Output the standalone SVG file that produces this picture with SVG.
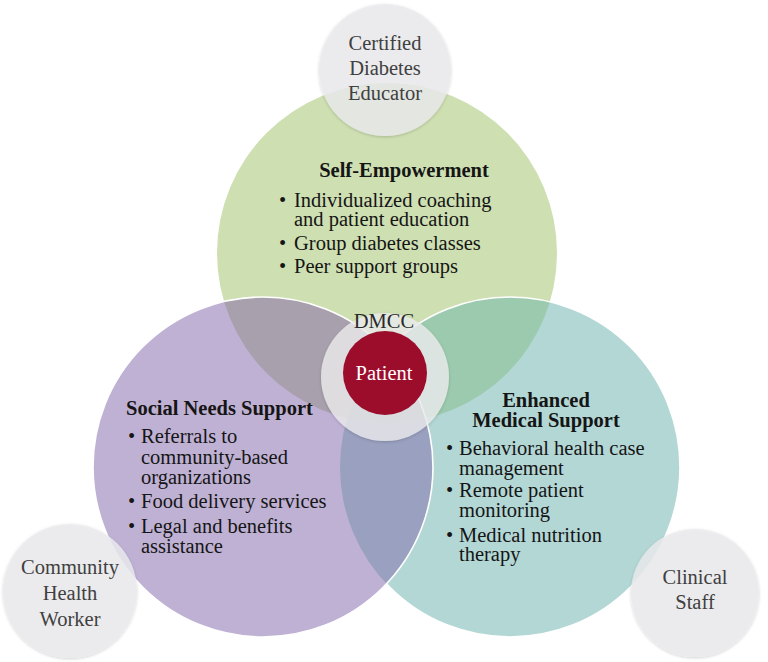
<svg xmlns="http://www.w3.org/2000/svg" width="768" height="662" viewBox="0 0 768 662">
<style>
  .t { font-size: 20.5px; fill: #151515; }
  .b { font-weight: bold; }
  .s { font-size: 20.5px; fill: #404040; text-anchor: middle; }
  .small { fill: #ececee; fill-opacity: 0.82; filter: url(#sh); }
  .edge { fill: none; stroke: #ffffff; stroke-width: 1.6; }
</style>
<defs>
  <filter id="sh" x="-20%" y="-20%" width="140%" height="140%">
    <feDropShadow dx="0" dy="1" stdDeviation="1.6" flood-color="#000" flood-opacity="0.22"/>
  </filter>
  <clipPath id="cG"><circle cx="387" cy="253" r="170"/></clipPath>
  <clipPath id="cP"><circle cx="263" cy="467" r="170"/></clipPath>
  <mask id="notP">
    <rect x="0" y="0" width="768" height="662" fill="#fff"/>
    <circle cx="263" cy="467" r="170" fill="#000"/>
  </mask>
</defs>
<rect x="0" y="0" width="768" height="662" fill="#ffffff"/>

<g id="self-empowerment">
  <circle cx="387" cy="253" r="170" fill="#cedfb2"/>
</g>
<g id="enhanced-medical-support">
  <circle cx="510" cy="467" r="170" fill="#b3d7d5"/>
</g>
<g id="social-needs-support">
  <circle cx="263" cy="467" r="170" fill="#bfb1d4"/>
</g>

<g id="overlaps">
  <g clip-path="url(#cG)"><circle cx="263" cy="467" r="170" fill="#a8a0ac"/></g>
  <g clip-path="url(#cG)"><circle cx="510" cy="467" r="170" fill="#9ccaae"/></g>
  <g clip-path="url(#cP)"><circle cx="510" cy="467" r="170" fill="#9aa0bf"/></g>
  <g clip-path="url(#cG)"><g clip-path="url(#cP)"><circle cx="510" cy="467" r="170" fill="#8f9aa8"/></g></g>
  <circle class="edge" cx="510" cy="467" r="170" mask="url(#notP)"/>
  <circle class="edge" cx="263" cy="467" r="170"/>
</g>

<g font-family="Liberation Serif, serif">
<g id="self-empowerment-text">
  <text class="t b" x="404" y="177" text-anchor="middle">Self-Empowerment</text>
  <text class="t" x="279" y="207">•</text>
  <text class="t" x="294" y="207">Individualized coaching</text>
  <text class="t" x="294" y="226">and patient education</text>
  <text class="t" x="279" y="250">•</text>
  <text class="t" x="294" y="250">Group diabetes classes</text>
  <text class="t" x="279" y="273">•</text>
  <text class="t" x="294" y="273">Peer support groups</text>
</g>

<g id="social-needs-text">
  <text class="t b" x="126" y="415">Social Needs Support</text>
  <text class="t" x="128" y="443">•</text>
  <text class="t" x="141" y="443">Referrals to</text>
  <text class="t" x="141" y="464">community-based</text>
  <text class="t" x="141" y="484">organizations</text>
  <text class="t" x="128" y="508">•</text>
  <text class="t" x="141" y="508">Food delivery services</text>
  <text class="t" x="128" y="533">•</text>
  <text class="t" x="141" y="533">Legal and benefits</text>
  <text class="t" x="141" y="553">assistance</text>
</g>

<g id="medical-text">
  <text class="t b" x="546" y="407" text-anchor="middle">Enhanced</text>
  <text class="t b" x="546" y="427" text-anchor="middle">Medical Support</text>
  <text class="t" x="446" y="455">•</text>
  <text class="t" x="459" y="455">Behavioral health case</text>
  <text class="t" x="459" y="475">management</text>
  <text class="t" x="446" y="497">•</text>
  <text class="t" x="459" y="497">Remote patient</text>
  <text class="t" x="459" y="517">monitoring</text>
  <text class="t" x="446" y="542">•</text>
  <text class="t" x="459" y="542">Medical nutrition</text>
  <text class="t" x="459" y="561">therapy</text>
</g>

<g id="certified-diabetes-educator">
  <circle class="small" cx="385" cy="70" r="66"/>
  <text class="s" x="385" y="50">Certified</text>
  <text class="s" x="385" y="75">Diabetes</text>
  <text class="s" x="385" y="100">Educator</text>
</g>

<g id="community-health-worker">
  <circle class="small" cx="70" cy="591" r="67"/>
  <text class="s" x="70" y="574">Community</text>
  <text class="s" x="70" y="600">Health</text>
  <text class="s" x="70" y="626">Worker</text>
</g>

<g id="clinical-staff">
  <circle class="small" cx="695" cy="593" r="64"/>
  <text class="s" x="695" y="584">Clinical</text>
  <text class="s" x="695" y="609">Staff</text>
</g>

<g id="dmcc">
  <circle cx="385" cy="377" r="64" fill="#eeeef0" fill-opacity="0.78" filter="url(#sh)"/>
  <text class="t" x="384" y="328" text-anchor="middle" style="fill:#2a2a2a">DMCC</text>
</g>

<g id="patient">
  <circle cx="385" cy="373" r="42" fill="#9c0d2c"/>
  <text class="t" x="384" y="380" text-anchor="middle" style="fill:#ffffff">Patient</text>
</g>
</g>
</svg>
